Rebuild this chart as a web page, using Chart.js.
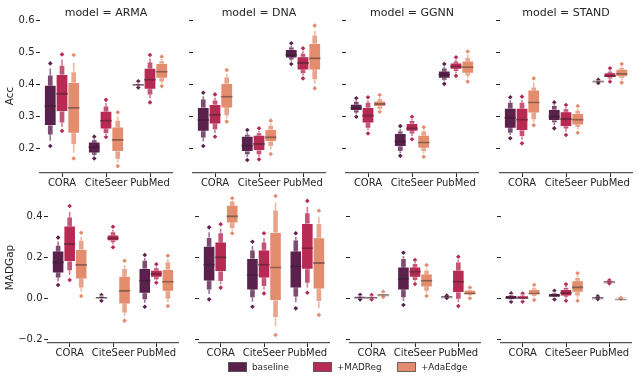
<!DOCTYPE html>
<html>
<head>
<meta charset="utf-8">
<script src="https://cdn.jsdelivr.net/npm/chart.js@4"></script>
<style>
  body { margin: 0; background: #fff; width: 636px; height: 380px; position: relative; overflow: hidden; }
  canvas { position: absolute; }
  .sw { position: absolute; top: 362px; width: 17px; height: 8px; border: 1px solid rgba(90,90,90,0.85); }
  .lt { position: absolute; top: 362px; font: 8.8px "DejaVu Sans"; line-height: 11px; color: #262626; white-space: nowrap; }
</style>
</head>
<body>
<script>
const categories = ['CORA', 'CiteSeer', 'PubMed'];
const hues = ['baseline', '+MADReg', '+AdaEdge'];
const models = ['ARMA', 'DNA', 'GGNN', 'STAND'];
const hueColors = ['#5b214d', '#b72a54', '#e38d6e'];
const accTicks = [0.2, 0.3, 0.4, 0.5, 0.6];
const gapTicks = [-0.2, 0.0, 0.2, 0.4];

// one box = [min, l3lo, l2lo, q1, median, q3, l2hi, l3hi, max]
// rows: CORA, CiteSeer, PubMed; inside: baseline, +MADReg, +AdaEdge
const accARMA = [
  [[0.208, 0.222, 0.242, 0.271, 0.335, 0.398, 0.430, 0.452, 0.466],
   [0.255, 0.265, 0.279, 0.315, 0.373, 0.432, 0.461, 0.480, 0.494],
   [0.169, 0.185, 0.211, 0.247, 0.329, 0.407, 0.440, 0.470, 0.492]],
  [[0.169, 0.173, 0.178, 0.185, 0.206, 0.221, 0.228, 0.233, 0.237],
   [0.236, 0.240, 0.246, 0.260, 0.289, 0.317, 0.333, 0.344, 0.352],
   [0.145, 0.155, 0.166, 0.190, 0.229, 0.268, 0.289, 0.302, 0.313]],
  [[0.391, 0.394, 0.397, 0.399, 0.400, 0.401, 0.404, 0.407, 0.410],
   [0.344, 0.355, 0.367, 0.385, 0.417, 0.451, 0.471, 0.483, 0.492],
   [0.395, 0.400, 0.407, 0.419, 0.442, 0.466, 0.475, 0.482, 0.487]]
];
const accDNA = [
  [[0.208, 0.220, 0.232, 0.253, 0.291, 0.329, 0.355, 0.365, 0.374],
   [0.237, 0.246, 0.258, 0.276, 0.307, 0.338, 0.352, 0.361, 0.369],
   [0.284, 0.292, 0.302, 0.326, 0.364, 0.404, 0.424, 0.435, 0.445]],
  [[0.164, 0.171, 0.180, 0.190, 0.211, 0.239, 0.245, 0.252, 0.258],
   [0.166, 0.172, 0.180, 0.193, 0.216, 0.242, 0.250, 0.257, 0.263],
   [0.183, 0.195, 0.206, 0.221, 0.237, 0.260, 0.273, 0.280, 0.287]],
  [[0.464, 0.470, 0.476, 0.482, 0.494, 0.510, 0.518, 0.524, 0.529],
   [0.419, 0.426, 0.433, 0.445, 0.469, 0.487, 0.498, 0.506, 0.513],
   [0.388, 0.400, 0.414, 0.445, 0.484, 0.529, 0.555, 0.570, 0.584]]
];
const accGGNN = [
  [[0.299, 0.305, 0.310, 0.318, 0.329, 0.339, 0.348, 0.353, 0.357],
   [0.247, 0.255, 0.263, 0.279, 0.305, 0.329, 0.345, 0.353, 0.360],
   [0.315, 0.318, 0.322, 0.331, 0.341, 0.349, 0.356, 0.362, 0.367]],
  [[0.177, 0.183, 0.190, 0.206, 0.224, 0.247, 0.255, 0.263, 0.270],
   [0.229, 0.237, 0.245, 0.253, 0.265, 0.279, 0.288, 0.294, 0.299],
   [0.174, 0.182, 0.190, 0.200, 0.221, 0.242, 0.255, 0.261, 0.266]],
  [[0.402, 0.408, 0.413, 0.419, 0.433, 0.443, 0.452, 0.458, 0.464],
   [0.427, 0.433, 0.440, 0.447, 0.458, 0.468, 0.474, 0.480, 0.485],
   [0.409, 0.418, 0.426, 0.435, 0.456, 0.474, 0.485, 0.495, 0.503]]
];
const accSTAND = [
  [[0.232, 0.240, 0.247, 0.263, 0.298, 0.326, 0.345, 0.353, 0.360],
   [0.216, 0.226, 0.237, 0.256, 0.292, 0.326, 0.345, 0.354, 0.362],
   [0.273, 0.281, 0.289, 0.310, 0.346, 0.383, 0.393, 0.408, 0.419]],
  [[0.263, 0.271, 0.280, 0.287, 0.302, 0.322, 0.335, 0.340, 0.344],
   [0.242, 0.250, 0.260, 0.268, 0.294, 0.315, 0.325, 0.331, 0.336],
   [0.249, 0.257, 0.265, 0.273, 0.292, 0.310, 0.320, 0.327, 0.333]],
  [[0.405, 0.407, 0.409, 0.410, 0.411, 0.412, 0.413, 0.414, 0.415],
   [0.409, 0.413, 0.417, 0.421, 0.429, 0.437, 0.442, 0.447, 0.451],
   [0.406, 0.412, 0.418, 0.424, 0.435, 0.448, 0.454, 0.459, 0.464]]
];
const gapARMA = [
  [[0.065, 0.080, 0.098, 0.122, 0.179, 0.232, 0.260, 0.280, 0.296],
   [0.089, 0.110, 0.133, 0.179, 0.268, 0.353, 0.398, 0.425, 0.450],
   [0.011, 0.030, 0.049, 0.093, 0.166, 0.239, 0.284, 0.303, 0.320]],
  [[-0.012, -0.006, -0.002, 0.001, 0.005, 0.009, 0.012, 0.014, 0.016],
   [0.249, 0.260, 0.270, 0.280, 0.296, 0.309, 0.325, 0.338, 0.349],
   [-0.109, -0.090, -0.073, -0.029, 0.040, 0.109, 0.146, 0.165, 0.183]],
  [[-0.041, -0.025, -0.008, 0.024, 0.089, 0.146, 0.187, 0.200, 0.211],
   [0.076, 0.083, 0.090, 0.102, 0.122, 0.138, 0.150, 0.158, 0.166],
   [-0.038, -0.022, -0.005, 0.033, 0.084, 0.141, 0.179, 0.195, 0.208]]
];
const gapDNA = [
  [[-0.005, 0.018, 0.040, 0.084, 0.167, 0.255, 0.298, 0.325, 0.346],
   [0.052, 0.066, 0.081, 0.130, 0.203, 0.276, 0.320, 0.342, 0.361],
   [0.317, 0.328, 0.340, 0.366, 0.403, 0.455, 0.475, 0.482, 0.488]],
  [[-0.041, -0.020, 0.000, 0.040, 0.117, 0.195, 0.236, 0.258, 0.276],
   [0.024, 0.040, 0.057, 0.098, 0.167, 0.236, 0.276, 0.298, 0.317],
   [-0.179, -0.139, -0.095, -0.012, 0.154, 0.322, 0.431, 0.470, 0.499]],
  [[-0.049, -0.022, 0.005, 0.050, 0.159, 0.232, 0.285, 0.302, 0.317],
   [0.027, 0.050, 0.073, 0.141, 0.248, 0.366, 0.418, 0.450, 0.475],
   [-0.081, -0.050, -0.017, 0.045, 0.175, 0.296, 0.366, 0.400, 0.427]]
];
const gapGGNN = [
  [[-0.006, -0.002, 0.001, 0.003, 0.005, 0.008, 0.011, 0.014, 0.017],
   [-0.006, -0.002, 0.001, 0.003, 0.005, 0.007, 0.010, 0.013, 0.016],
   [0.006, 0.010, 0.013, 0.015, 0.018, 0.021, 0.024, 0.028, 0.032]],
  [[-0.033, -0.017, 0.000, 0.040, 0.098, 0.154, 0.195, 0.210, 0.222],
   [0.070, 0.078, 0.086, 0.102, 0.133, 0.154, 0.170, 0.180, 0.187],
   [0.011, 0.022, 0.033, 0.054, 0.089, 0.119, 0.138, 0.150, 0.162]],
  [[0.002, 0.004, 0.006, 0.007, 0.008, 0.009, 0.010, 0.012, 0.014],
   [-0.038, -0.022, -0.005, 0.027, 0.084, 0.138, 0.178, 0.192, 0.203],
   [0.000, 0.008, 0.012, 0.016, 0.027, 0.040, 0.044, 0.048, 0.052]]
];
const gapSTAND = [
  [[-0.017, -0.011, -0.008, -0.005, 0.005, 0.015, 0.019, 0.022, 0.024],
   [-0.016, -0.010, -0.007, -0.004, 0.004, 0.013, 0.017, 0.020, 0.023],
   [-0.008, 0.000, 0.008, 0.016, 0.027, 0.044, 0.052, 0.059, 0.065]],
  [[-0.005, 0.000, 0.003, 0.005, 0.015, 0.024, 0.029, 0.033, 0.037],
   [-0.012, -0.004, 0.004, 0.011, 0.029, 0.044, 0.054, 0.062, 0.068],
   [-0.012, -0.003, 0.011, 0.029, 0.057, 0.086, 0.102, 0.113, 0.122]],
  [[-0.004, -0.002, 0.000, 0.002, 0.003, 0.004, 0.006, 0.008, 0.010],
   [0.073, 0.076, 0.078, 0.080, 0.081, 0.082, 0.084, 0.086, 0.088],
   [-0.002, -0.001, 0.000, 0.000, 0.000, 0.001, 0.001, 0.001, 0.002]]
];

Chart.defaults.font.family = 'DejaVu Sans';
Chart.defaults.color = '#262626';
Chart.defaults.animation = false;

const textColor = '#262626';
const medianColor = 'rgba(40,30,30,0.45)';
const boxEdge = 'rgba(255,255,255,0.35)';

// lighter shade of a hue for the outer letter-value boxes
function tint(hex, t) {
  const n = parseInt(hex.slice(1), 16);
  const c = [n >> 16, (n >> 8) & 255, n & 255].map(v => Math.round(v + (255 - v) * t));
  return 'rgb(' + c.join(',') + ')';
}
const levels = [
  { lo: 3, hi: 5, w: 1.0, t: 0 },
  { lo: 2, hi: 6, w: 0.5, t: 0.2 },
  { lo: 1, hi: 7, w: 0.25, t: 0.4 }
];
const hueOffset = h => (h - 1) * 0.8 / 3;

const fmt = v => (v < 0 ? '\u2212' : '') + Math.abs(v).toFixed(1);

const rows = [
  { metric: 'Acc', data: [accARMA, accDNA, accGGNN, accSTAND], ticks: accTicks,
    min: 0.1234, max: 0.6047, top: 8, head: 11, chartH: 154,
    lefts: [40, 193, 346, 500], chartW: 136, firstYW: 40, titles: true, labelPad: 4.4 },
  { metric: 'MADGap', data: [gapARMA, gapDNA, gapGGNN, gapSTAND], ticks: gapTicks,
    min: -0.218, max: 0.5185, top: 184, head: 8, chartH: 151,
    lefts: [48, 199, 350, 501], chartW: 134, firstYW: 48, titles: false, labelPad: 3.9 }
];

function makePanel(row, col) {
  const boxes = row.data[col];
  const yw = col === 0 ? row.firstYW : 8;
  const slot = row.chartW / 3 * 0.8 / 3;
  const canvas = document.createElement('canvas');
  canvas.width = yw + row.chartW;
  canvas.height = row.head + row.chartH + 18;
  canvas.style.left = (row.lefts[col] - yw) + 'px';
  canvas.style.top = row.top + 'px';
  document.body.appendChild(canvas);

  const datasets = [];
  // median lines (top edge of a transparent bar)
  hues.forEach((hue, h) => datasets.push({
    xAxisID: 'xl',
    grouped: false,
    data: boxes.map((b, i) => ({ x: i + hueOffset(h), y: [row.min, b[h][4]] })),
    backgroundColor: 'rgba(0,0,0,0)',
    borderColor: medianColor,
    borderWidth: { top: 1.2, right: 0, bottom: 0, left: 0 },
    borderSkipped: false,
    barThickness: slot,
    clip: false
  }));
  levels.forEach(lv => {
    hues.forEach((hue, h) => datasets.push({
      xAxisID: 'xl',
      grouped: false,
      data: boxes.map((b, i) => ({ x: i + hueOffset(h), y: [b[h][lv.lo], b[h][lv.hi]] })),
      backgroundColor: tint(hueColors[h], lv.t),
      borderColor: boxEdge,
      borderWidth: 1,
      borderSkipped: false,
      barThickness: slot * lv.w,
      clip: false
    }));
  });
  // outlier diamonds at the extremes
  hues.forEach((hue, h) => datasets.push({
    type: 'scatter',
    xAxisID: 'xl',
    data: boxes.flatMap((b, i) => [
      { x: i + hueOffset(h), y: b[h][0] },
      { x: i + hueOffset(h), y: b[h][8] }
    ]),
    pointStyle: 'rectRot',
    pointRadius: 2.3,
    pointBackgroundColor: hueColors[h],
    pointBorderWidth: 0,
    clip: false
  }));

  new Chart(canvas, {
    type: 'bar',
    data: { labels: categories, datasets: datasets },
    options: {
      responsive: false,
      events: [],
      layout: { padding: { top: row.titles ? 0 : row.head, left: 0, right: 0, bottom: 0 } },
      plugins: {
        legend: { display: false },
        tooltip: { enabled: false },
        title: {
          display: row.titles,
          text: 'model = ' + models[col],
          fullSize: false,
          padding: 0,
          color: textColor,
          font: { size: 11, weight: 'normal', lineHeight: 1 }
        }
      },
      scales: {
        x: {
          type: 'category',
          labels: categories,
          offset: true,
          grid: { offset: false, drawOnChartArea: false, drawTicks: true, tickLength: 4, color: textColor, lineWidth: 1 },
          border: { display: true, color: '#555', width: 1.25 },
          ticks: { color: textColor, font: { size: 10 }, padding: 0, maxRotation: 0, autoSkip: false },
          afterFit: s => { s.height = 18; }
        },
        xl: { type: 'linear', display: false, min: -0.5, max: 2.5, offset: false },
        y: {
          type: 'linear',
          min: row.min,
          max: row.max,
          stacked: false,
          afterBuildTicks: s => { s.ticks = row.ticks.map(v => ({ value: v })); },
          grid: { drawOnChartArea: false, drawTicks: true, tickLength: 4, color: textColor, lineWidth: 1 },
          border: { display: false },
          ticks: { display: col === 0, padding: 1.5, color: textColor, font: { size: 10 }, callback: v => fmt(v) },
          title: {
            display: col === 0,
            text: row.metric,
            color: textColor,
            font: { size: 10.5 },
            padding: { top: row.labelPad, bottom: 0 }
          },
          afterFit: s => { s.width = yw; }
        }
      }
    }
  });
}

rows.forEach(row => models.forEach((m, col) => makePanel(row, col)));

// legend under the bottom row
const legendLeft = [228, 313, 397];
hues.forEach((hue, h) => {
  const sw = document.createElement('div');
  sw.className = 'sw';
  sw.style.left = legendLeft[h] + 'px';
  sw.style.background = hueColors[h];
  document.body.appendChild(sw);
  const lt = document.createElement('div');
  lt.className = 'lt';
  lt.style.left = (legendLeft[h] + 24) + 'px';
  lt.textContent = hue;
  document.body.appendChild(lt);
});
</script>
</body>
</html>
